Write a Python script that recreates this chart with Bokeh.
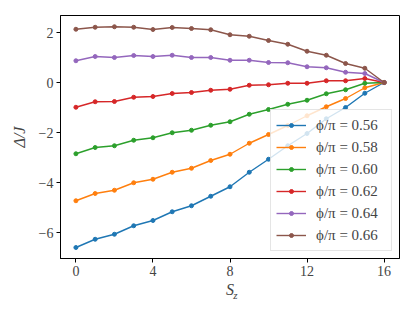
from bokeh.plotting import figure
from bokeh.models import Range1d, FixedTicker, Legend, LinearAxis
from bokeh.embed import file_html
from bokeh.resources import INLINE

sz = list(range(17))
phi_labels = ["ϕ/π = 0.56", "ϕ/π = 0.58", "ϕ/π = 0.60", "ϕ/π = 0.62", "ϕ/π = 0.64", "ϕ/π = 0.66"]
d056 = [-6.60, -6.27, -6.07, -5.73, -5.52, -5.17, -4.93, -4.55, -4.17, -3.59, -3.07, -2.53, -2.04, -1.45, -1.00, -0.43, 0.0]
d058 = [-4.73, -4.44, -4.31, -4.01, -3.87, -3.59, -3.43, -3.12, -2.87, -2.43, -2.08, -1.72, -1.33, -0.97, -0.64, -0.21, 0.0]
d060 = [-2.85, -2.60, -2.53, -2.31, -2.21, -2.01, -1.91, -1.71, -1.57, -1.27, -1.08, -0.87, -0.71, -0.45, -0.29, -0.03, 0.0]
d062 = [-0.99, -0.77, -0.76, -0.59, -0.56, -0.44, -0.40, -0.31, -0.27, -0.11, -0.09, -0.03, -0.03, 0.07, 0.07, 0.16, 0.0]
d064 = [0.87, 1.04, 1.00, 1.08, 1.04, 1.09, 1.00, 1.00, 0.89, 0.89, 0.80, 0.79, 0.63, 0.59, 0.41, 0.36, 0.0]
d066 = [2.13, 2.21, 2.23, 2.21, 2.12, 2.20, 2.16, 2.11, 1.91, 1.85, 1.68, 1.53, 1.25, 1.09, 0.76, 0.57, 0.0]
series = [d056, d058, d060, d062, d064, d066]
colors = ["#1f77b4", "#ff7f0e", "#2ca02c", "#d62728", "#9467bd", "#8c564b"]

x_ticks = [0, 4, 8, 12, 16]
y_ticks = [-6, -4, -2, 0, 2]
y_tick_labels = ["−6", "−4", "−2", "0", "2"]

FONT = "Liberation Serif"

p = figure(width=407, height=303, output_backend="svg", toolbar_location=None,
           x_range=Range1d(-0.8, 16.8), y_range=Range1d(-7.04, 2.68),
           min_border_left=60, min_border_right=8, min_border_top=15, min_border_bottom=45)
p.xgrid.visible = False
p.ygrid.visible = False
p.outline_line_color = "black"
p.outline_line_width = 1

items = []
for ys, c, lab in zip(series, colors, phi_labels):
    r1 = p.line(sz, ys, line_color=c, line_width=1.4)
    r2 = p.scatter(sz, ys, marker="circle", size=4, fill_color=c, line_color=c)
    items.append((lab, [r1, r2]))

legend = Legend(items=items, location="bottom_right")
legend.label_text_font = FONT
legend.label_text_font_size = "15px"
legend.border_line_color = "#cccccc"
legend.border_line_width = 1
legend.background_fill_alpha = 0.8
legend.glyph_width = 30
legend.glyph_height = 10
legend.label_height = 20
legend.label_width = 70
legend.label_standoff = 10
legend.spacing = 2
legend.padding = 5
legend.margin = 7
p.add_layout(legend)

for ax in (p.xaxis[0], p.yaxis[0]):
    ax.major_label_text_font = FONT
    ax.major_label_text_font_size = "14px"
    ax.axis_label_text_font = FONT
    ax.axis_label_text_font_size = "16px"
    ax.axis_label_text_font_style = "italic"
    ax.major_tick_in = 0
    ax.major_tick_out = 4
    ax.minor_tick_line_color = None
    ax.axis_line_color = "black"
    ax.major_tick_line_color = "black"
    ax.major_label_standoff = 3

p.xaxis[0].ticker = FixedTicker(ticks=x_ticks)
p.yaxis[0].ticker = FixedTicker(ticks=y_ticks)
p.yaxis[0].major_label_overrides = {t: s for t, s in zip(y_ticks, y_tick_labels)}
p.xaxis[0].axis_label = "S"
p.xaxis[0].axis_label_standoff = 2
p.yaxis[0].axis_label = "Δ/J"
p.yaxis[0].axis_label_standoff = 8

# subscript z of S_z, drawn as the label of a bare extra axis below
zaxis = LinearAxis(ticker=FixedTicker(ticks=[]), axis_label="\u2002\u2002z",
                   axis_line_color=None, major_tick_out=0, major_tick_in=0,
                   minor_tick_line_color=None, major_label_standoff=0,
                   major_label_text_font_size="0px",
                   axis_label_text_font=FONT, axis_label_text_font_size="11px",
                   axis_label_text_font_style="italic", axis_label_standoff=-12)
p.add_layout(zaxis, "below")

open("out.html", "w").write(file_html(p, INLINE))
